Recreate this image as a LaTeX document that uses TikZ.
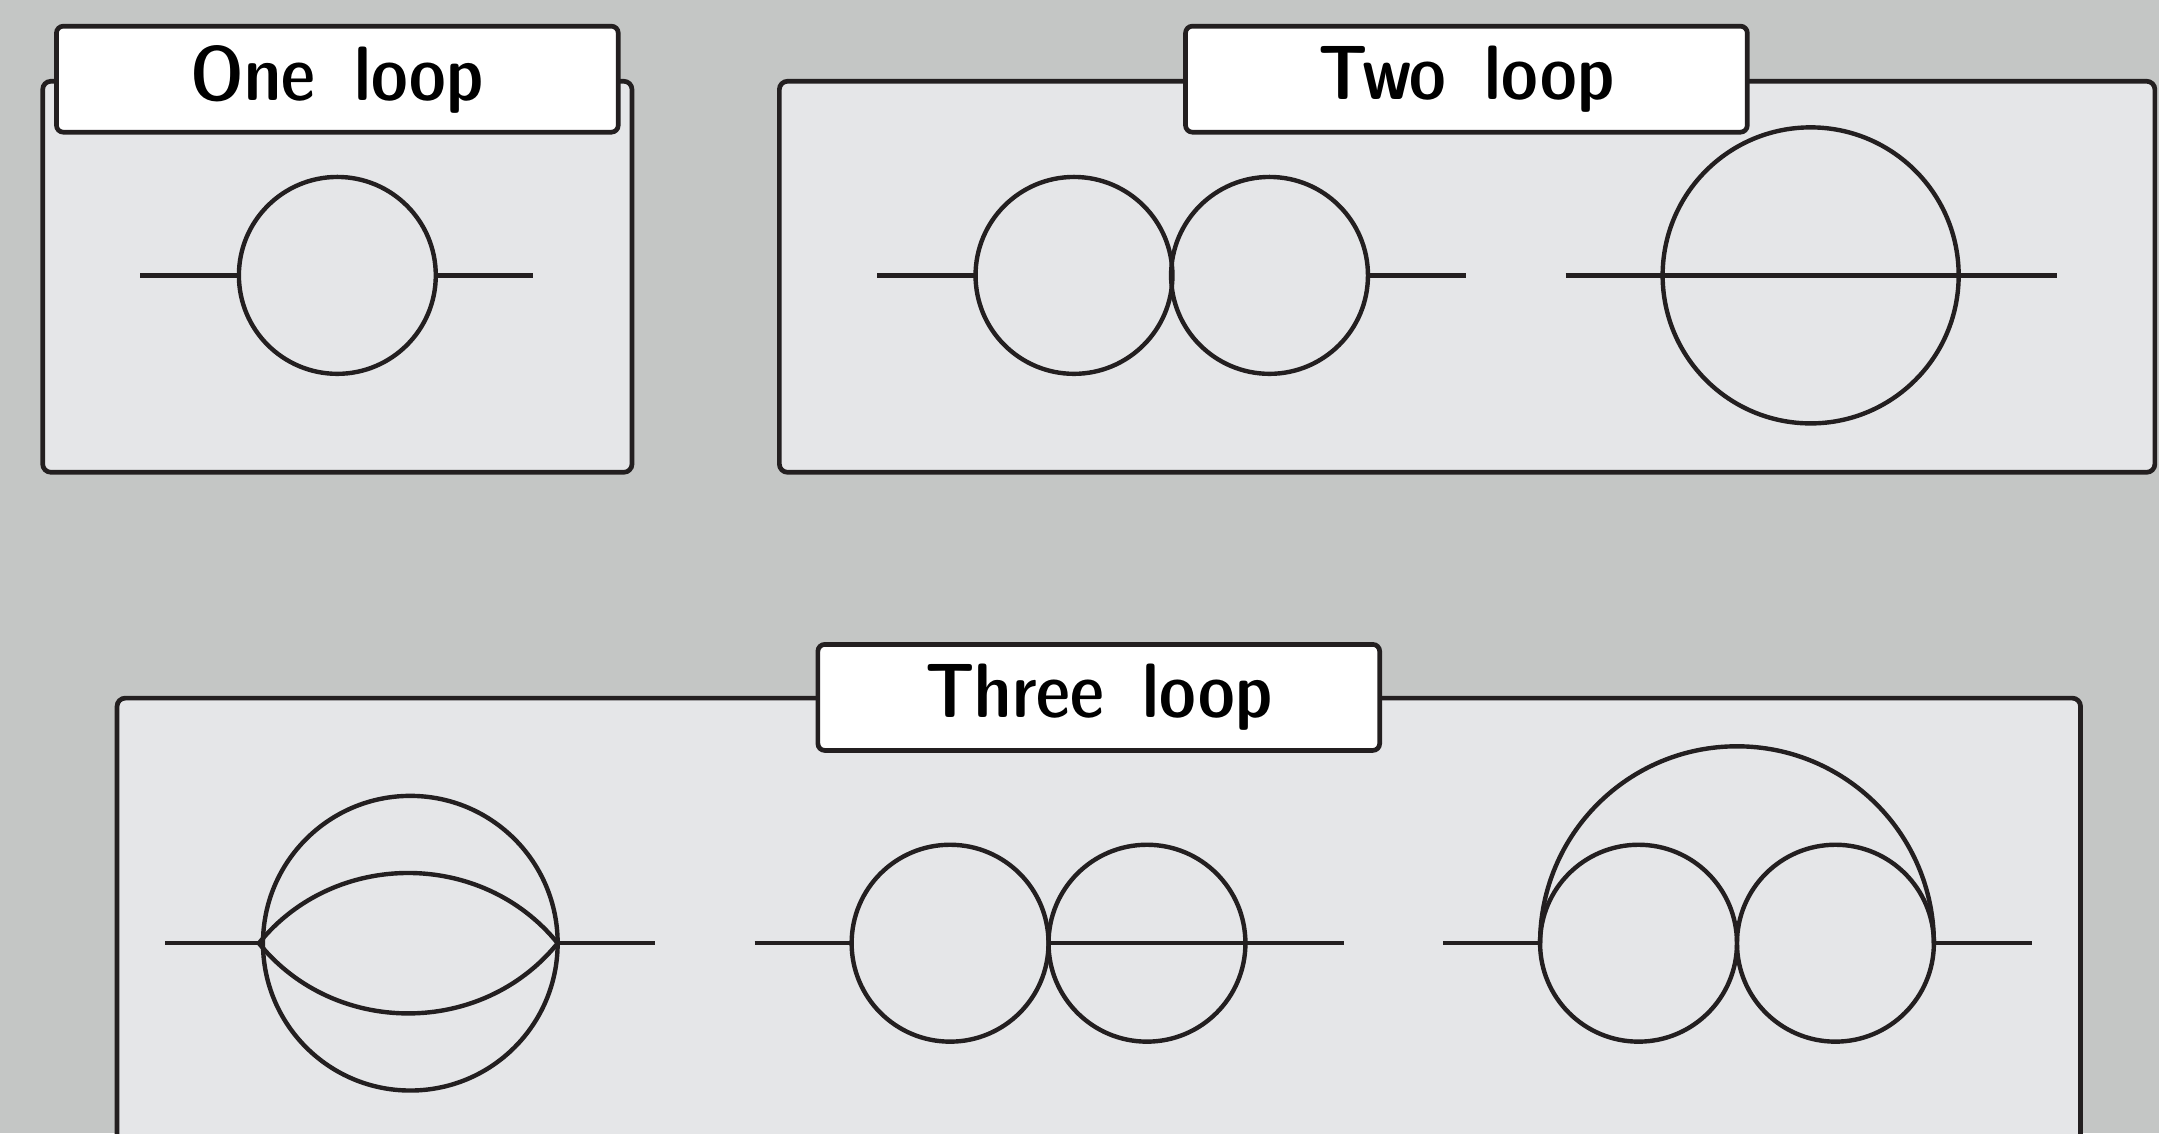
\documentclass[tikz,border=0pt]{standalone}
\usepackage{fontspec}
\definecolor{ink}{RGB}{35,31,32}
\definecolor{backdrop}{RGB}{196,198,197}
\definecolor{panelgray}{RGB}{229,230,232}
\tikzset{
  panel/.style={draw=ink, fill=panelgray, line width=3.4pt, rounded corners=6pt},
  titlebox/.style={draw=ink, fill=white, line width=3.4pt, rounded corners=5pt,
    minimum width=408pt, minimum height=77pt, inner sep=0pt,
    font=\sffamily\fontseries{sbc}\fontsize{56}{62}\selectfont},
  prop/.style={draw=ink, line width=3.2pt},
}
\newcommand{\wgap}{\hspace{0.5em}}
\begin{document}
\begin{tikzpicture}[x=1pt,y=-1pt]
  % canvas
  \clip (0,0) rectangle (1568,823);
  \fill[backdrop] (0,0) rectangle (1568,823);

  % ---------- panels and headings ----------
  \draw[panel] (31,59) rectangle (459,343);
  \node[titlebox] (h1) at (245,57.5) {One\wgap loop};

  \draw[panel] (566,59) rectangle (1565,343);
  \node[titlebox] (h2) at (1065,57.5) {Two\wgap loop};

  \draw[panel] (85,507) rectangle (1511,845);
  \node[titlebox] (h3) at (798,506.5) {Three\wgap loop};

  % ---------- one loop: bubble ----------
  \coordinate (a1) at (102,200);
  \coordinate (v1) at (173.5,200);
  \coordinate (v2) at (316.5,200);
  \coordinate (b1) at (387,200);
  \draw[prop] (245,200) circle[radius=71.5];
  \draw[prop] (a1) -- (v1);
  \draw[prop] (v2) -- (b1);

  % ---------- two loop: double bubble ----------
  \coordinate (a2) at (637,200);
  \coordinate (v3) at (708.5,200);
  \coordinate (v4) at (993.5,200);
  \coordinate (b2) at (1065,200);
  \draw[prop] (780,200) circle[radius=71.5];
  \draw[prop] (922,200) circle[radius=71.5];
  \draw[prop] (a2) -- (v3);
  \draw[prop] (v4) -- (b2);

  % ---------- two loop: sunset ----------
  \coordinate (a3) at (1137,200);
  \coordinate (b3) at (1494,200);
  \draw[prop] (1315,200) circle[radius=107.5];
  \draw[prop] (a3) -- (b3);

  % ---------- three loop: basketball ----------
  \coordinate (a4) at (120,685);
  \coordinate (v5) at (188,685);
  \coordinate (v6) at (405,685);
  \coordinate (b4) at (476,685);
  \draw[prop] (298,685) circle[radius=107];
  \draw[prop] (a4) -- (v5);
  \draw[prop] (v6) -- (b4);
  \draw[prop] (v5) .. controls (243,617) and (350,617) .. (v6);
  \draw[prop] (v5) .. controls (243,753) and (350,753) .. (v6);

  % ---------- three loop: bubble + sunset ----------
  \coordinate (a5) at (548,685);
  \coordinate (v7) at (618.5,685);
  \coordinate (v8) at (761.5,685);
  \coordinate (b5) at (976,685);
  \draw[prop] (690,685) circle[radius=71.5];
  \draw[prop] (833,685) circle[radius=71.5];
  \draw[prop] (a5) -- (v7);
  \draw[prop] (v8) -- (b5);

  % ---------- three loop: double bubble under an arch ----------
  \coordinate (a6) at (1048,685);
  \coordinate (v9) at (1118.5,685);
  \coordinate (v10) at (1404.5,685);
  \coordinate (b6) at (1476,685);
  \draw[prop] (1190,685) circle[radius=71.5];
  \draw[prop] (1333,685) circle[radius=71.5];
  \draw[prop] (v9) arc[start angle=180, end angle=360, radius=143];
  \draw[prop] (a6) -- (v9);
  \draw[prop] (v10) -- (b6);
\end{tikzpicture}
\end{document}
